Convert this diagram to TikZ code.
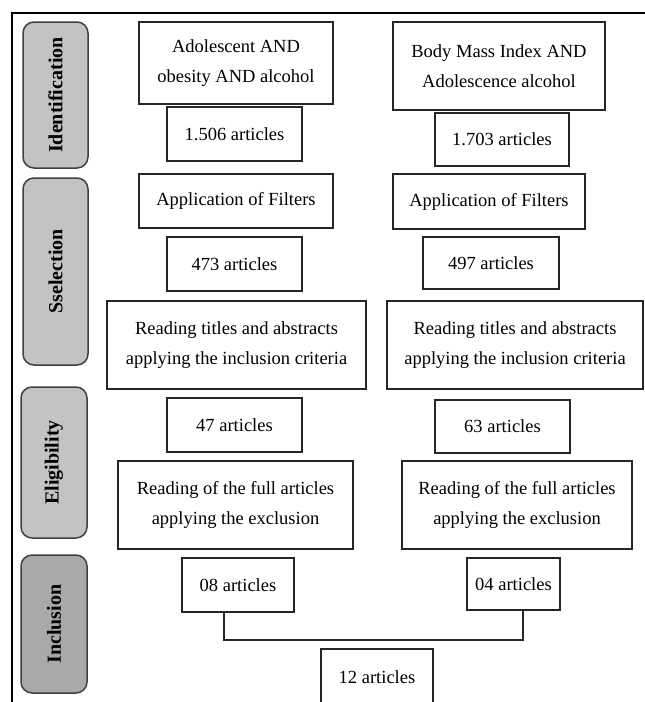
\documentclass[tikz,border=0pt]{standalone}
\usepackage{fontspec}
\setmainfont{Liberation Serif}
\usepackage{xcolor}
\usepackage{tikz}
\usetikzlibrary{
    calc,
    positioning
}
\definecolor{stagegray}{HTML}{C3C3C3}
\definecolor{stagedark}{HTML}{A9A9A9}
\tikzset{
    box/.style={draw=black!85, line width=1.3pt, inner sep=0pt, align=center,
        font=\fontsize{18.5}{30}\selectfont},
    stage/.style={draw=black!75, line width=1.5pt, rounded corners=11pt, inner sep=0pt,
        fill=stagegray, rotate=90, font=\fontsize{20}{22}\selectfont\bfseries},
    frame/.style={line width=2.8pt}
}

\begin{document}
\begin{tikzpicture}[x=1pt,y=-1pt]
        \useasboundingbox (0,0) rectangle (645,702);

        % frame
        \draw[frame] (645,13) -- (12,13) -- (12,702);

        % stages
        \node[stage, minimum width=146, minimum height=65] (id)  at (55.5,95)   {Identification};
        \node[stage, minimum width=187, minimum height=65] (sel) at (55.5,271.5) {Sselection};
        \node[stage, minimum width=151, minimum height=66] (eli) at (54,462.5)  {Eligibility};
        \node[stage, minimum width=138, minimum height=66, fill=stagedark] (inc) at (54,624) {Inclusion};

        % left column
        \node[box, minimum width=194, minimum height=82] (l1) at (236,63)    {Adolescent AND\\obesity AND alcohol};
        \node[box, minimum width=135, minimum height=54] (l2) at (234.5,134) {1.506 articles};
        \node[box, minimum width=194, minimum height=54] (l3) at (236,201)   {Application of Filters};
        \node[box, minimum width=135, minimum height=54] (l4) at (234.5,264) {473 articles};
        \node[box, minimum width=259, minimum height=88] (l5) at (236.5,345) {Reading titles and abstracts\\applying the inclusion criteria};
        \node[box, minimum width=135, minimum height=54] (l6) at (234.5,425) {47 articles};
        \node[box, minimum width=235, minimum height=88] (l7) at (235.5,505) {Reading of the full articles\\applying the exclusion};
        \node[box, minimum width=112, minimum height=54] (l8) at (238,585)   {08 articles};

        % right column
        \node[box, minimum width=212, minimum height=88] (r1) at (499,66)    {Body Mass Index AND\\Adolescence alcohol};
        \node[box, minimum width=134, minimum height=53] (r2) at (502,139.5) {1.703 articles};
        \node[box, minimum width=192, minimum height=55] (r3) at (489,201.5) {Application of Filters};
        \node[box, minimum width=136, minimum height=52] (r4) at (491,263)   {497 articles};
        \node[box, minimum width=256, minimum height=88] (r5) at (515,345)   {Reading titles and abstracts\\applying the inclusion criteria};
        \node[box, minimum width=135, minimum height=53] (r6) at (502.5,426.5) {63 articles};
        \node[box, minimum width=230, minimum height=88] (r7) at (517,505)   {Reading of the full articles\\applying the exclusion};
        \node[box, minimum width=93, minimum height=52]  (r8) at (513.5,584) {04 articles};

        % total
        \node[box, minimum width=112, minimum height=56] (tot) at (377,677)  {12 articles};

        \coordinate (jl) at (224,640);
        \coordinate (jr) at (523,640);
        \draw[line width=1.3pt, black!85] (l8.south -| jl) -- (jl) -- (jr) -- (r8.south -| jr);
    \end{tikzpicture}
\end{document}
